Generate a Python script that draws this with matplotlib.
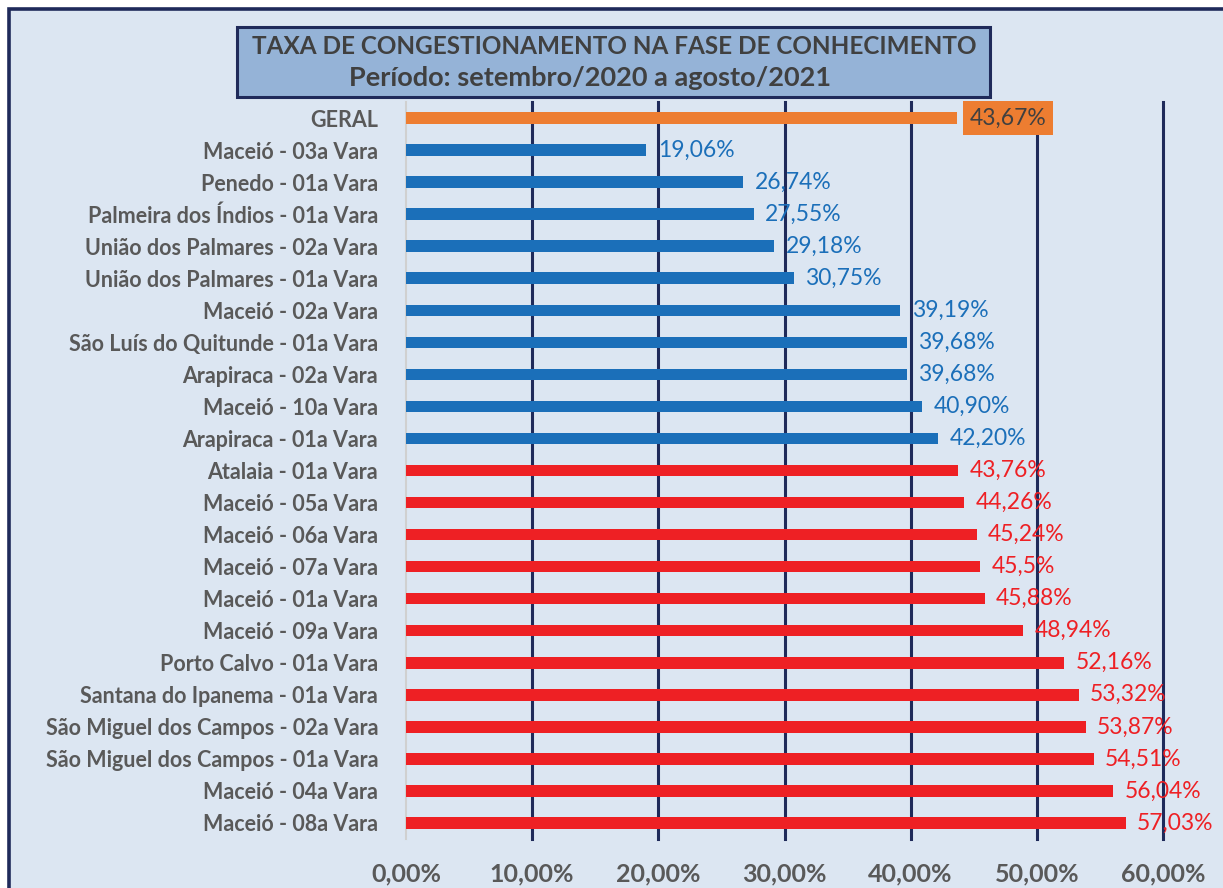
import matplotlib
matplotlib.use("Agg")
import matplotlib.pyplot as plt
from matplotlib.patches import Rectangle

categories = [
    "GERAL",
    "Maceió - 03a Vara",
    "Penedo - 01a Vara",
    "Palmeira dos Índios - 01a Vara",
    "União dos Palmares - 02a Vara",
    "União dos Palmares - 01a Vara",
    "Maceió - 02a Vara",
    "São Luís do Quitunde - 01a Vara",
    "Arapiraca - 02a Vara",
    "Maceió - 10a Vara",
    "Arapiraca - 01a Vara",
    "Atalaia - 01a Vara",
    "Maceió - 05a Vara",
    "Maceió - 06a Vara",
    "Maceió - 07a Vara",
    "Maceió - 01a Vara",
    "Maceió - 09a Vara",
    "Porto Calvo - 01a Vara",
    "Santana do Ipanema - 01a Vara",
    "São Miguel dos Campos - 02a Vara",
    "São Miguel dos Campos - 01a Vara",
    "Maceió - 04a Vara",
    "Maceió - 08a Vara",
]
values = [43.67, 19.06, 26.74, 27.55, 29.18, 30.75, 39.19, 39.68, 39.68, 40.90,
          42.20, 43.76, 44.26, 45.24, 45.5, 45.88, 48.94, 52.16, 53.32, 53.87,
          54.51, 56.04, 57.03]
value_labels = ["43,67%", "19,06%", "26,74%", "27,55%", "29,18%", "30,75%",
                "39,19%", "39,68%", "39,68%", "40,90%", "42,20%", "43,76%",
                "44,26%", "45,24%", "45,5%", "45,88%", "48,94%", "52,16%",
                "53,32%", "53,87%", "54,51%", "56,04%", "57,03%"]
xticks = [0, 10, 20, 30, 40, 50, 60]
xtick_labels = ["0,00%", "10,00%", "20,00%", "30,00%", "40,00%", "50,00%", "60,00%"]
title_line1 = "TAXA DE CONGESTIONAMENTO NA FASE DE CONHECIMENTO"
title_line2 = "Período: setembro/2020 a agosto/2021"

ORANGE = "#ED7D31"
BLUE = "#1B6FB9"
RED = "#EE2024"
NAVY = "#1F2A5A"
BG = "#DCE6F2"
GRAY = "#595959"

def color_for(i, v):
    if i == 0:
        return ORANGE
    return BLUE if v < values[0] else RED

FONT = ["Lato", "DejaVu Sans"]
plt.rcParams["font.family"] = FONT

W, H = 1223, 888
fig = plt.figure(figsize=(W / 100, H / 100), dpi=100, facecolor="white")

# chart area background with border (top/left visible)
fig.patches.append(Rectangle((9 / W, -0.05), 1.1, (H - 9) / H + 0.05,
                             transform=fig.transFigure, facecolor=BG,
                             edgecolor=NAVY, linewidth=2.6, zorder=-10))

ax = fig.add_axes([406 / W, (H - 839) / H, (1163 - 406) / W, (839 - 102) / H])
ax.set_zorder(1)
ax.set_facecolor("none")

n = len(categories)
ypos = list(range(n))
colors = [color_for(i, v) for i, v in enumerate(values)]
ax.barh(ypos, values, height=0.36, color=colors, zorder=3)

ax.set_xlim(0, 60)
ax.set_ylim(n - 0.5, -0.5)
ax.set_xticks(xticks)
ax.set_xticklabels(xtick_labels)
ax.set_yticks(ypos)
ax.set_yticklabels(categories)

for s in ["top", "right", "bottom"]:
    ax.spines[s].set_visible(False)
ax.spines["left"].set_color("#D0D0D0")
ax.spines["left"].set_linewidth(1.5)

ax.tick_params(axis="x", length=0, pad=17, labelsize=18, labelcolor=GRAY)
ax.tick_params(axis="y", length=0, pad=20, labelsize=15.5, labelcolor=GRAY)
for lab in ax.get_xticklabels() + ax.get_yticklabels():
    lab.set_fontweight("bold")

for x in xticks[1:]:
    ax.axvline(x, color=NAVY, linewidth=2.2, zorder=1, clip_on=False)

for i, (v, lab) in enumerate(zip(values, value_labels)):
    if i == 0:
        ax.text(v + 1.0, i, lab, va="center", ha="left", fontsize=16.5,
                color="#404040",
                bbox=dict(boxstyle="square,pad=0.3", facecolor=ORANGE,
                          edgecolor="none"), zorder=5)
    else:
        ax.text(v + 0.9, i, lab, va="center", ha="left", fontsize=16.5,
                color=BLUE if colors[i] == BLUE else RED, zorder=5)

# title box
fig.patches.append(Rectangle((237 / W, (H - 97) / H), (990 - 237) / W, 70 / H,
                             transform=fig.transFigure, facecolor="#95B3D7",
                             edgecolor=NAVY, linewidth=2.2, zorder=6))
fig.text(614 / W, (H - 46) / H, title_line1, ha="center", va="center",
         fontsize=17.5, fontweight="bold", color="#404040", zorder=7)
fig.text(590 / W, (H - 78) / H, title_line2, ha="center", va="center",
         fontsize=19.5, fontweight="bold", color="#404040", zorder=7)

fig.savefig("out.png", dpi=100, facecolor="white")
